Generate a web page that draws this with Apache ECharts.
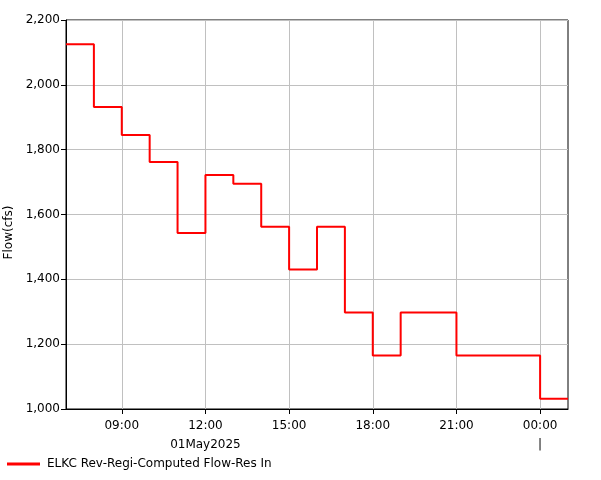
<!DOCTYPE html>
<html>
<head>
<meta charset="utf-8">
<script src="https://cdn.jsdelivr.net/npm/echarts@6/dist/echarts.min.js"></script>
<style>html,body{margin:0;padding:0;background:#fff;}#c{width:601px;height:480px;}</style>
</head>
<body>
<div id="c"></div>
<script>
// Hourly time stamps (01May2025 07:00 -> 02May2025 01:00)
const times = ['07:00','08:00','09:00','10:00','11:00','12:00','13:00','14:00','15:00','16:00',
               '17:00','18:00','19:00','20:00','21:00','22:00','23:00','00:00','01:00'];
// Flow (cfs), value held from each time stamp to the next
const flow = [2125,1932,1845,1762,1543,1722,1695,1562,1430,1562,
              1298,1165,1298,1298,1165,1165,1165,1032,1032];
const seriesName = 'ELKC Rev-Regi-Computed Flow-Res In';
const dateLabel = '01May2025';
const dateLabelAt = '12:00';
const daySeparatorAt = '00:00';
const yMin = 1000, yMax = 2200, yStep = 200;

const FONT = 'DejaVu Sans';
const isMajor = (i) => parseInt(times[i], 10) % 3 === 0;

const chart = echarts.init(document.getElementById('c'), null, {renderer: 'canvas'});
chart.setOption({
  backgroundColor: '#ffffff',
  animation: false,
  textStyle: {fontFamily: FONT},
  grid: {left: 66, right: 33, top: 20, bottom: 71, containLabel: false, outerBoundsMode: 'none',
         show: true, borderColor: '#000', borderWidth: 1, backgroundColor: 'transparent'},
  legend: {
    left: 7, bottom: 10, icon: 'rect', itemWidth: 33, itemHeight: 3, itemGap: 10, padding: 0,
    textStyle: {fontFamily: FONT, fontSize: 12, color: '#000', padding: [0,0,0,2]},
    data: [seriesName]
  },
  xAxis: {
    type: 'category',
    data: times,
    boundaryGap: false,
    axisLine: {lineStyle: {color: '#000', width: 1}},
    axisTick: {show: true, length: 5, interval: (i) => isMajor(i), lineStyle: {color: '#000'}},
    axisLabel: {
      interval: (i) => isMajor(i),
      fontFamily: FONT, fontSize: 12, color: '#000', margin: 7, lineHeight: 19,
      formatter: (v) => v === dateLabelAt ? v + '\n' + dateLabel : (v === daySeparatorAt ? v + '\n|' : v)
    },
    splitLine: {show: true, interval: (i) => isMajor(i), lineStyle: {color: '#c0c0c0', width: 1}}
  },
  yAxis: {
    type: 'value',
    min: yMin, max: yMax, interval: yStep,
    name: 'Flow(cfs)',
    nameLocation: 'middle',
    nameGap: 51,
    nameTextStyle: {fontFamily: FONT, fontSize: 12, color: '#000', padding: [0, 36, 0, 0]},
    axisLine: {show: true, lineStyle: {color: '#000', width: 1}},
    axisTick: {show: true, length: 5, lineStyle: {color: '#000'}},
    axisLabel: {fontFamily: FONT, fontSize: 12, color: '#000', margin: 6,
      formatter: (v) => v.toLocaleString('en-US')},
    splitLine: {show: true, lineStyle: {color: '#c0c0c0', width: 1}}
  },
  series: [{
    name: seriesName,
    type: 'line',
    step: 'end',
    data: flow,
    showSymbol: false,
    symbol: 'none',
    lineStyle: {color: '#ff0000', width: 2},
    itemStyle: {color: '#ff0000'}
  }]
});
</script>
</body>
</html>
